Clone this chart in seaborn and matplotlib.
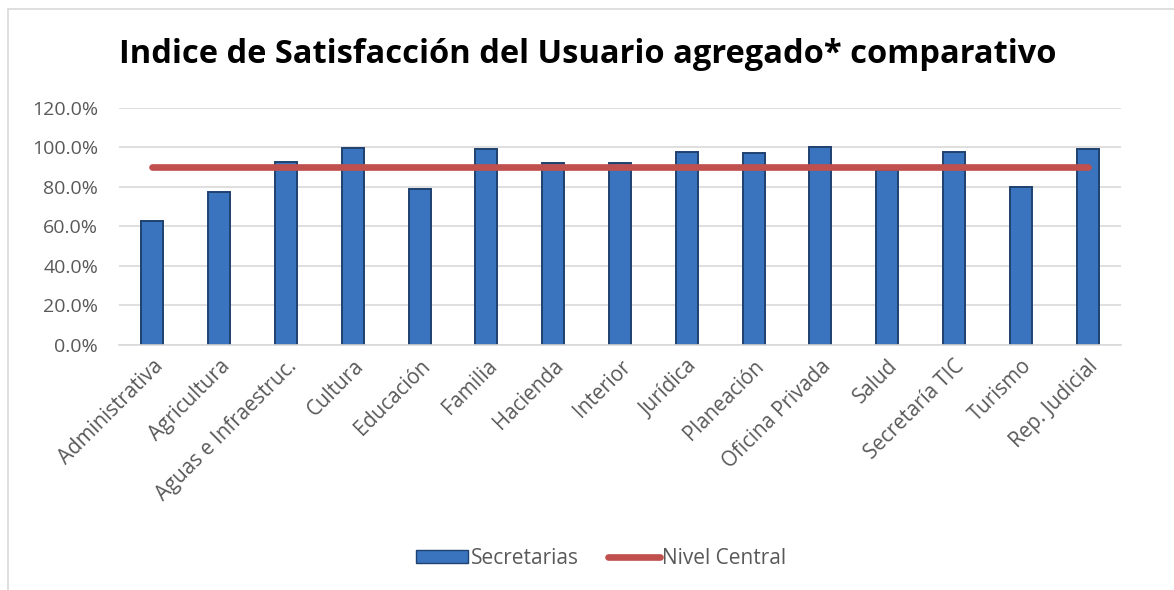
import matplotlib

matplotlib.use("Agg")
import matplotlib.pyplot as plt
import numpy as np
import pandas as pd
import seaborn as sns
from matplotlib.lines import Line2D
from matplotlib.patches import Patch
from matplotlib.ticker import PercentFormatter

# data
categories = [
    "Administrativa", "Agricultura", "Aguas e Infraestruc.", "Cultura", "Educación",
    "Familia", "Hacienda", "Interior", "Jurídica", "Planeación",
    "Oficina Privada", "Salud", "Secretaría TIC", "Turismo", "Rep. Judicial",
]
secretarias = [0.625, 0.771, 0.926, 0.997, 0.787, 0.990, 0.917, 0.917, 0.976, 0.971,
               1.000, 0.885, 0.976, 0.799, 0.990]
nivel_central = [0.898] * len(categories)
y_ticks = [0.0, 0.2, 0.4, 0.6, 0.8, 1.0, 1.2]

BAR_COLOR = "#3A74BE"
BAR_EDGE = "#1F416F"
LINE_COLOR = "#C0504D"
TEXT_GRAY = "#595959"

sns.set_style("white")
plt.rcParams["font.family"] = ["Open Sans", "DejaVu Sans"]

df = pd.DataFrame({"area": categories, "secretarias": secretarias, "nivel": nivel_central})

fig = plt.figure(figsize=(11.74, 5.90), dpi=100)
ax = fig.add_axes([0.1014, 0.416, 0.8535, 0.4017])

sns.barplot(data=df, x="area", y="secretarias", ax=ax, width=0.33,
            color=BAR_COLOR, edgecolor=BAR_EDGE, linewidth=1.4, saturation=1, zorder=2)
sns.lineplot(x=np.arange(len(categories)), y=df["nivel"], ax=ax, color=LINE_COLOR,
             linewidth=4.8, solid_capstyle="round", zorder=3)

ax.set_ylim(0, 1.2)
ax.set_xlim(-0.5, len(categories) - 0.5)
ax.set_yticks(y_ticks)
ax.yaxis.set_major_formatter(PercentFormatter(1.0, decimals=1))
ax.grid(axis="y", color="#D9D9D9", linewidth=1.2, zorder=0)
ax.set_axisbelow(True)
for side in ["top", "right", "left"]:
    ax.spines[side].set_visible(False)
ax.spines["bottom"].set_color("#D9D9D9")
ax.spines["bottom"].set_linewidth(1.2)
ax.tick_params(axis="both", length=0, labelsize=14, labelcolor=TEXT_GRAY)
ax.tick_params(axis="y", pad=15)
ax.tick_params(axis="x", pad=8)
ax.set_xticks(range(len(categories)))
ax.set_xticklabels(categories, rotation=45, ha="right", rotation_mode="anchor",
                   fontsize=14.8, color=TEXT_GRAY)
ax.set_xlabel("")
ax.set_ylabel("")

fig.text(0.501, 0.907, "Indice de Satisfacción del Usuario agregado* comparativo",
         ha="center", va="center", fontsize=23.5, fontweight="bold", color="#000000")

handles = [
    Patch(facecolor=BAR_COLOR, edgecolor=BAR_EDGE, label="Secretarias"),
    Line2D([0], [0], color=LINE_COLOR, linewidth=4.8, solid_capstyle="round",
           label="Nivel Central"),
]
fig.legend(handles=handles, loc="center", bbox_to_anchor=(0.512, 0.054), ncol=2,
           frameon=False, fontsize=15, labelcolor=TEXT_GRAY, handlelength=2.5,
           handleheight=0.6, handletextpad=0.1, columnspacing=1.4)

# chart border (left and top edges visible)
fig.add_artist(Line2D([8 / 1174, 8 / 1174], [0, 1 - 9 / 590], color="#D9D9D9", linewidth=1.2))
fig.add_artist(Line2D([8 / 1174, 1], [1 - 9 / 590, 1 - 9 / 590], color="#D9D9D9", linewidth=1.2))

fig.savefig("out.png", dpi=100)
